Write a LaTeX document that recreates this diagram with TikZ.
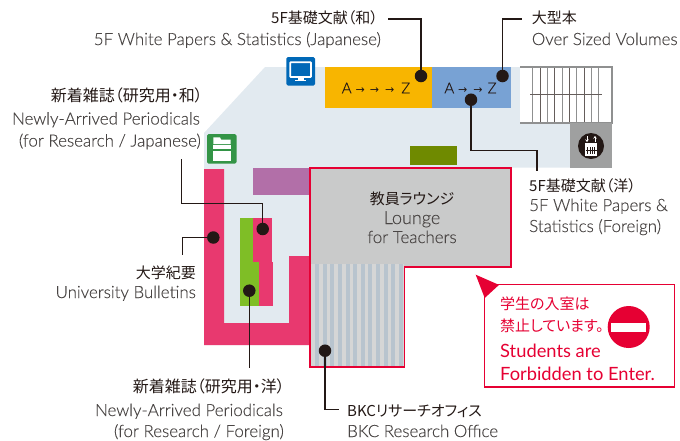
\documentclass[tikz,border=0pt]{standalone}
\usepackage{fontspec}
\usetikzlibrary{arrows.meta}
\setmainfont{Lato}[UprightFont=* Light,BoldFont=*,UprightFeatures={FakeBold=0.25}]
\newfontfamily\jp{Noto Sans CJK JP}[RawFeature=+palt]
\newfontfamily\arr{DejaVu Sans}
\newcommand{\azarrow}{{\arr\fontsize{11}{11}\selectfont→}}
\definecolor{floorc}{HTML}{E2EAF0}
\definecolor{pinkc}{HTML}{E8396F}
\definecolor{yellowc}{HTML}{F8B500}
\definecolor{bluec}{HTML}{78A2D4}
\definecolor{greenc}{HTML}{7FBE26}
\definecolor{purplec}{HTML}{B26FA8}
\definecolor{olivec}{HTML}{6F8A00}
\definecolor{redc}{HTML}{E60033}
\definecolor{loungec}{HTML}{C9CACA}
\definecolor{stripea}{HTML}{D5D6D6}
\definecolor{stripeb}{HTML}{B8C4CE}
\definecolor{liftc}{HTML}{9FA0A0}
\definecolor{inkc}{HTML}{231815}
\definecolor{engc}{HTML}{4A4645}
\definecolor{stairc}{HTML}{8F9090}
\definecolor{monc}{HTML}{0068B7}
\definecolor{shelfc}{HTML}{339446}
\tikzset{
  jptext/.style={inner sep=0pt,text=inkc,font=\jp\fontsize{15}{17}\selectfont},
  jplarge/.style={inner sep=0pt,text=inkc,font=\jp\fontsize{16}{18}\selectfont},
  entext/.style={inner sep=0pt,text=engc,font=\fontsize{16.9}{18}\selectfont},
  redtext/.style={inner sep=0pt,text=redc,anchor=base west},
  leader/.style={draw=inkc,line width=1.1pt},
  dot/.style={circle,fill=inkc,inner sep=0pt,minimum size=12.5pt},
  azlabel/.style={inner sep=0pt,text=inkc,font=\fontsize{15}{17}\selectfont},
}
\begin{document}
\begin{tikzpicture}[x=1pt,y=-1pt]
\useasboundingbox (0,0) rectangle (680,440);
% floor
\fill[floorc] (265,67) -- (520,67) -- (520,123) -- (570,123) -- (570,167.5) -- (310,167.5) -- (310,345) -- (204,345) -- (204,133) -- cycle;
% pink shelves
\fill[pinkc] (204,169) -- (224,169) -- (224,323) -- (289,323) -- (289,256) -- (309,256) -- (309,345) -- (204,345) -- cycle;
\fill[greenc] (240,218) rectangle (253,262);
\fill[greenc] (240,262) rectangle (259,306);
\fill[pinkc] (253,218) rectangle (272,262);
\fill[pinkc] (259,262) rectangle (273,306);
\fill[purplec] (253,168) rectangle (308.5,194.7);
\fill[olivec] (410,146) rectangle (457,165);
\fill[yellowc] (325,67) rectangle (432,108);
\fill[bluec] (432,67) rectangle (511,108);
% stairs
\fill[white] (520,67) rectangle (612,123);
\foreach \sx/\sc in {532.7/stairc,540/inkc!70,547/stairc,554.7/inkc!70,562/stairc,569/inkc!70,576.7/stairc,584/inkc!70,591/stairc,598.7/stairc}
  \draw[\sc,line width=1pt] (\sx,67) -- (\sx,123);
\draw[inkc!70,line width=1pt] (530,94.7) -- (602,94.7);
\draw[stairc,line width=1.2pt] (520,67) -- (612,67) -- (612,123) -- (520,123);
% lift
\fill[liftc] (570,123) rectangle (612,167.5);
\fill[inkc] (591,146) circle (13);
\fill[white] (585.3,143.3) rectangle (596.7,155.7);
\foreach \ex in {587.6,590,592.4,594.8} \draw[inkc,line width=0.9pt] (\ex,147) -- (\ex,154);
\draw[inkc,line width=0.6pt] (585.5,150) -- (596.5,150);
\draw[white,line width=0.8pt,-{Stealth[length=2.5pt,width=3.5pt]}] (587,136) -- (587,142);
\draw[white,line width=0.8pt,-{Stealth[length=2.5pt,width=3.5pt]}] (595,142) -- (595,136);
% monitor icon
\fill[monc,rounded corners=1.5pt] (286.3,57) rectangle (315,85.5);
\draw[white,line width=1.8pt,rounded corners=0.6pt] (290.3,62.2) rectangle (311,77);
\fill[white] (297.5,77.5) rectangle (303.8,80);
\fill[white] (295,80) rectangle (306,81.2);
% shelf icon
\fill[shelfc,rounded corners=1.5pt] (207,134) rectangle (236.5,163.5);
\fill[white] (213.3,137.3) -- (220,137.3) -- (221,139.5) -- (230.7,139.5) -- (230.7,144) -- (213.3,144) -- cycle;
\fill[white] (213.3,145.3) rectangle (230.7,149.3);
\fill[white] (213.3,150.7) rectangle (230.7,160.7);
% lounge
\fill[loungec] (311,169) rectangle (510,266);
\fill[stripea] (311,264) rectangle (404,366.5);
\foreach \k in {0,...,11} \fill[stripeb] ({315+7.63*\k},264) rectangle ({319+7.63*\k},366);
\draw[redc,line width=1.6pt] (310,168) -- (511,168) -- (511,267) -- (404.5,267) -- (404.5,367) -- (310,367) -- cycle;
% callout
\draw[redc,line width=1.4pt,fill=white] (484.7,284.3) rectangle (674.3,387);
\fill[redc] (475.7,274.7) -- (499,284.9) -- (484.7,298) -- cycle;
\fill[redc] (628.7,327) circle (21);
\fill[white] (611,323) rectangle (646,332);
\node[redtext,font=\jp\fontsize{15}{17}\selectfont] (noa) at (500,309.5) {学生の入室は};
\node[redtext,font=\jp\fontsize{15}{17}\selectfont] (nob) at (500,331.5) {禁止しています。};
\node[redtext,font=\bfseries\fontsize{18.3}{20}\selectfont] (noc) at (500,357.5) {Students are};
\node[redtext,font=\bfseries\fontsize{18.3}{20}\selectfont] (nod) at (500,380.5) {Forbidden to Enter.};
% A-Z
\node[azlabel] (azy) at (376,88) {A\hspace{4pt}\azarrow\hspace{5pt}\azarrow\hspace{6pt}\azarrow\hspace{7pt}Z};
\node[azlabel] (azb) at (470.5,88) {A\hspace{4pt}\azarrow\hspace{6pt}\azarrow\hspace{5pt}Z};
% lounge labels
\node[jptext,anchor=base] (lja) at (412,204) {教員ラウンジ};
\node[entext,anchor=base,font=\fontsize{18}{20}\selectfont] (lea) at (412,224) {Lounge};
\node[entext,anchor=base] (leb) at (412,243) {for Teachers};
% dots
\node[dot] (dy) at (421,76) {};
\node[dot] (dbt) at (502.5,76) {};
\node[dot] (dbl) at (471,99.7) {};
\node[dot] (dpk) at (262.7,229) {};
\node[dot] (dlf) at (213.3,237.5) {};
\node[dot] (dgr) at (249.3,290.7) {};
\node[dot] (dst) at (325,350.7) {};
% labels
\node[jptext,anchor=base east] (ta) at (378,23.5) {5F基礎文献（和）};
\node[entext,anchor=base east] (tb) at (381,45) {5F White Papers \& Statistics (Japanese)};
\node[jptext,anchor=base west] (tc) at (531.7,23.5) {大型本};
\node[entext,anchor=base west] (td) at (531.7,45) {Over Sized Volumes};
\node[jplarge,anchor=base east] (te) at (203,101) {新着雑誌（研究用・和）};
\node[entext,anchor=base east] (tf) at (200,124.5) {Newly-Arrived Periodicals};
\node[entext,anchor=base east] (tg) at (201,146.5) {(for Research / Japanese)};
\node[jptext,anchor=base west] (th) at (529,191) {5F基礎文献（洋）};
\node[entext,anchor=base west] (ti) at (529,211) {5F White Papers \&};
\node[entext,anchor=base west] (tj) at (529,232) {Statistics (Foreign)};
\node[jptext,anchor=base east] (tk) at (196,278.5) {大学紀要};
\node[entext,anchor=base east] (tl) at (196,298) {University Bulletins};
\node[jplarge,anchor=base east] (tm) at (285,392) {新着雑誌（研究用・洋）};
\node[entext,anchor=base east] (tn) at (283,416) {Newly-Arrived Periodicals};
\node[entext,anchor=base east] (to) at (284,437) {(for Research / Foreign)};
\node[jptext,anchor=base west] (tp) at (347,416) {BKCリサーチオフィス};
\node[entext,anchor=base west] (tq) at (347,437) {BKC Research Office};
% leaders
\coordinate (ya) at (388,19);
\coordinate (ba) at (521.7,19);
\coordinate (ca) at (537,170.7);
\coordinate (pa) at (181.7,159);
\coordinate (la) at (182.3,255);
\coordinate (ga) at (249.3,368);
\coordinate (sa) at (339,409.3);
\draw[leader] (dy.center) |- (ya);
\draw[leader] (dbt.center) |- (ba);
\draw[leader] (dbl.center) -- (dbl.center |- 0,150.7) -| (ca);
\draw[leader] (dpk.center) -- (dpk.center |- 0,203.7) -| (pa);
\draw[leader] (dlf.center) -| (la);
\draw[leader] (dgr.center) -- (ga);
\draw[leader] (dst.center) |- (sa);
\end{tikzpicture}
\end{document}
